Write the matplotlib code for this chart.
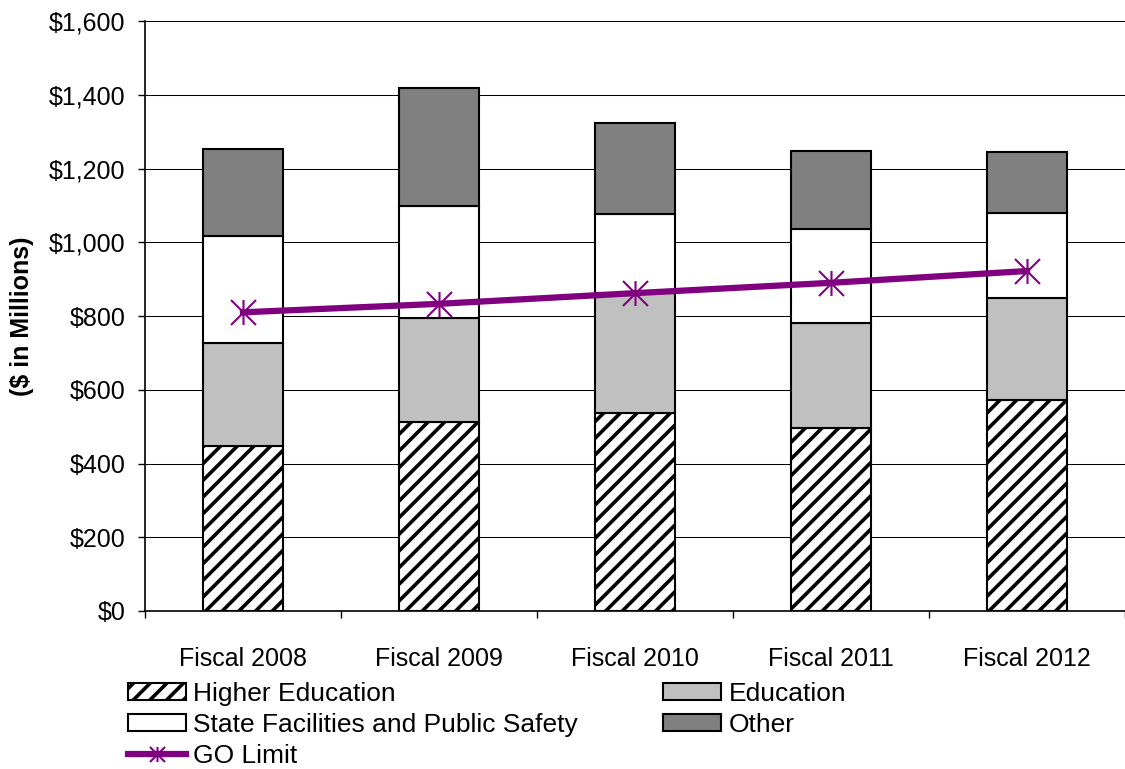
import numpy as np
import matplotlib
matplotlib.use("Agg")
import matplotlib.pyplot as plt
from matplotlib.path import Path
from matplotlib.ticker import FuncFormatter

plt.rcParams['font.family'] = ['Liberation Sans', 'DejaVu Sans']
plt.rcParams['hatch.linewidth'] = 2.6

years = ['Fiscal 2008', 'Fiscal 2009', 'Fiscal 2010', 'Fiscal 2011', 'Fiscal 2012']
higher_ed = [447, 512, 536, 497, 572]
education = [279, 282, 326, 283, 277]
facilities = [291, 304, 215, 257, 230]
other = [236, 320, 247, 210, 165]
go_limit = [810, 833, 862, 890, 922]

# asterisk marker: vertical stroke plus an X
star = Path([(0, -1), (0, 1), (-1, -1), (1, 1), (-1, 1), (1, -1)],
            [Path.MOVETO, Path.LINETO, Path.MOVETO, Path.LINETO,
             Path.MOVETO, Path.LINETO])

fig = plt.figure(figsize=(11.25, 7.69), dpi=100)
ax = fig.add_axes([145 / 1125, 158 / 769, 980 / 1125, 590 / 769])

x = np.arange(len(years))
width = 0.405
edge = dict(edgecolor='black', linewidth=1.5, width=width, zorder=3)

b1 = ax.bar(x, higher_ed, color='white', hatch='//', **edge)
bottom = np.array(higher_ed)
b2 = ax.bar(x, education, bottom=bottom, color='#C0C0C0', **edge)
bottom = bottom + education
b3 = ax.bar(x, facilities, bottom=bottom, color='white', **edge)
bottom = bottom + facilities
b4 = ax.bar(x, other, bottom=bottom, color='#808080', **edge)

ln, = ax.plot(x, go_limit, color='#800080', linewidth=4.5, marker=star,
              markersize=18, markeredgewidth=1.5, markerfacecolor='none',
              zorder=4)

ax.set_xlim(-0.5, 4.465)
ax.set_ylim(0, 1600)
ax.set_yticks(np.arange(0, 1601, 200))
ax.yaxis.set_major_formatter(FuncFormatter(lambda v, p: f'${v:,.0f}'))
ax.grid(axis='y', color='black', linewidth=0.75, zorder=0)
ax.set_axisbelow(True)

ax.set_xticks(x)
ax.set_xticklabels(years)
ax.set_xticks(np.arange(-0.5, 5, 1), minor=True)
ax.tick_params(axis='x', which='major', length=0, pad=26, labelsize=18)
ax.tick_params(axis='x', which='minor', length=5, width=1, direction='out')
ax.tick_params(axis='y', length=5, width=1, pad=9, labelsize=18)

for side in ('top', 'right'):
    ax.spines[side].set_visible(False)
ax.spines['left'].set_linewidth(1.2)
ax.spines['bottom'].set_linewidth(1.2)

fig.text(22 / 1125, 1 - 316 / 769, '($ in Millions)', rotation=90,
         fontsize=18, fontweight='bold', ha='center', va='center')

handles = [b1, b3, ln, b2, b4]
labels = ['Higher Education', 'State Facilities and Public Safety', 'GO Limit',
          'Education', 'Other']
fig.legend(handles, labels, ncol=2, frameon=False, fontsize=19,
           loc='center left', bbox_to_anchor=(128 / 1125, 1 - 725 / 769),
           borderpad=0, borderaxespad=0, handlelength=2.2, handleheight=0.62,
           handletextpad=0.28, columnspacing=3.22, labelspacing=0.26,
           markerscale=0.6)

fig.savefig('out.png', dpi=100)
